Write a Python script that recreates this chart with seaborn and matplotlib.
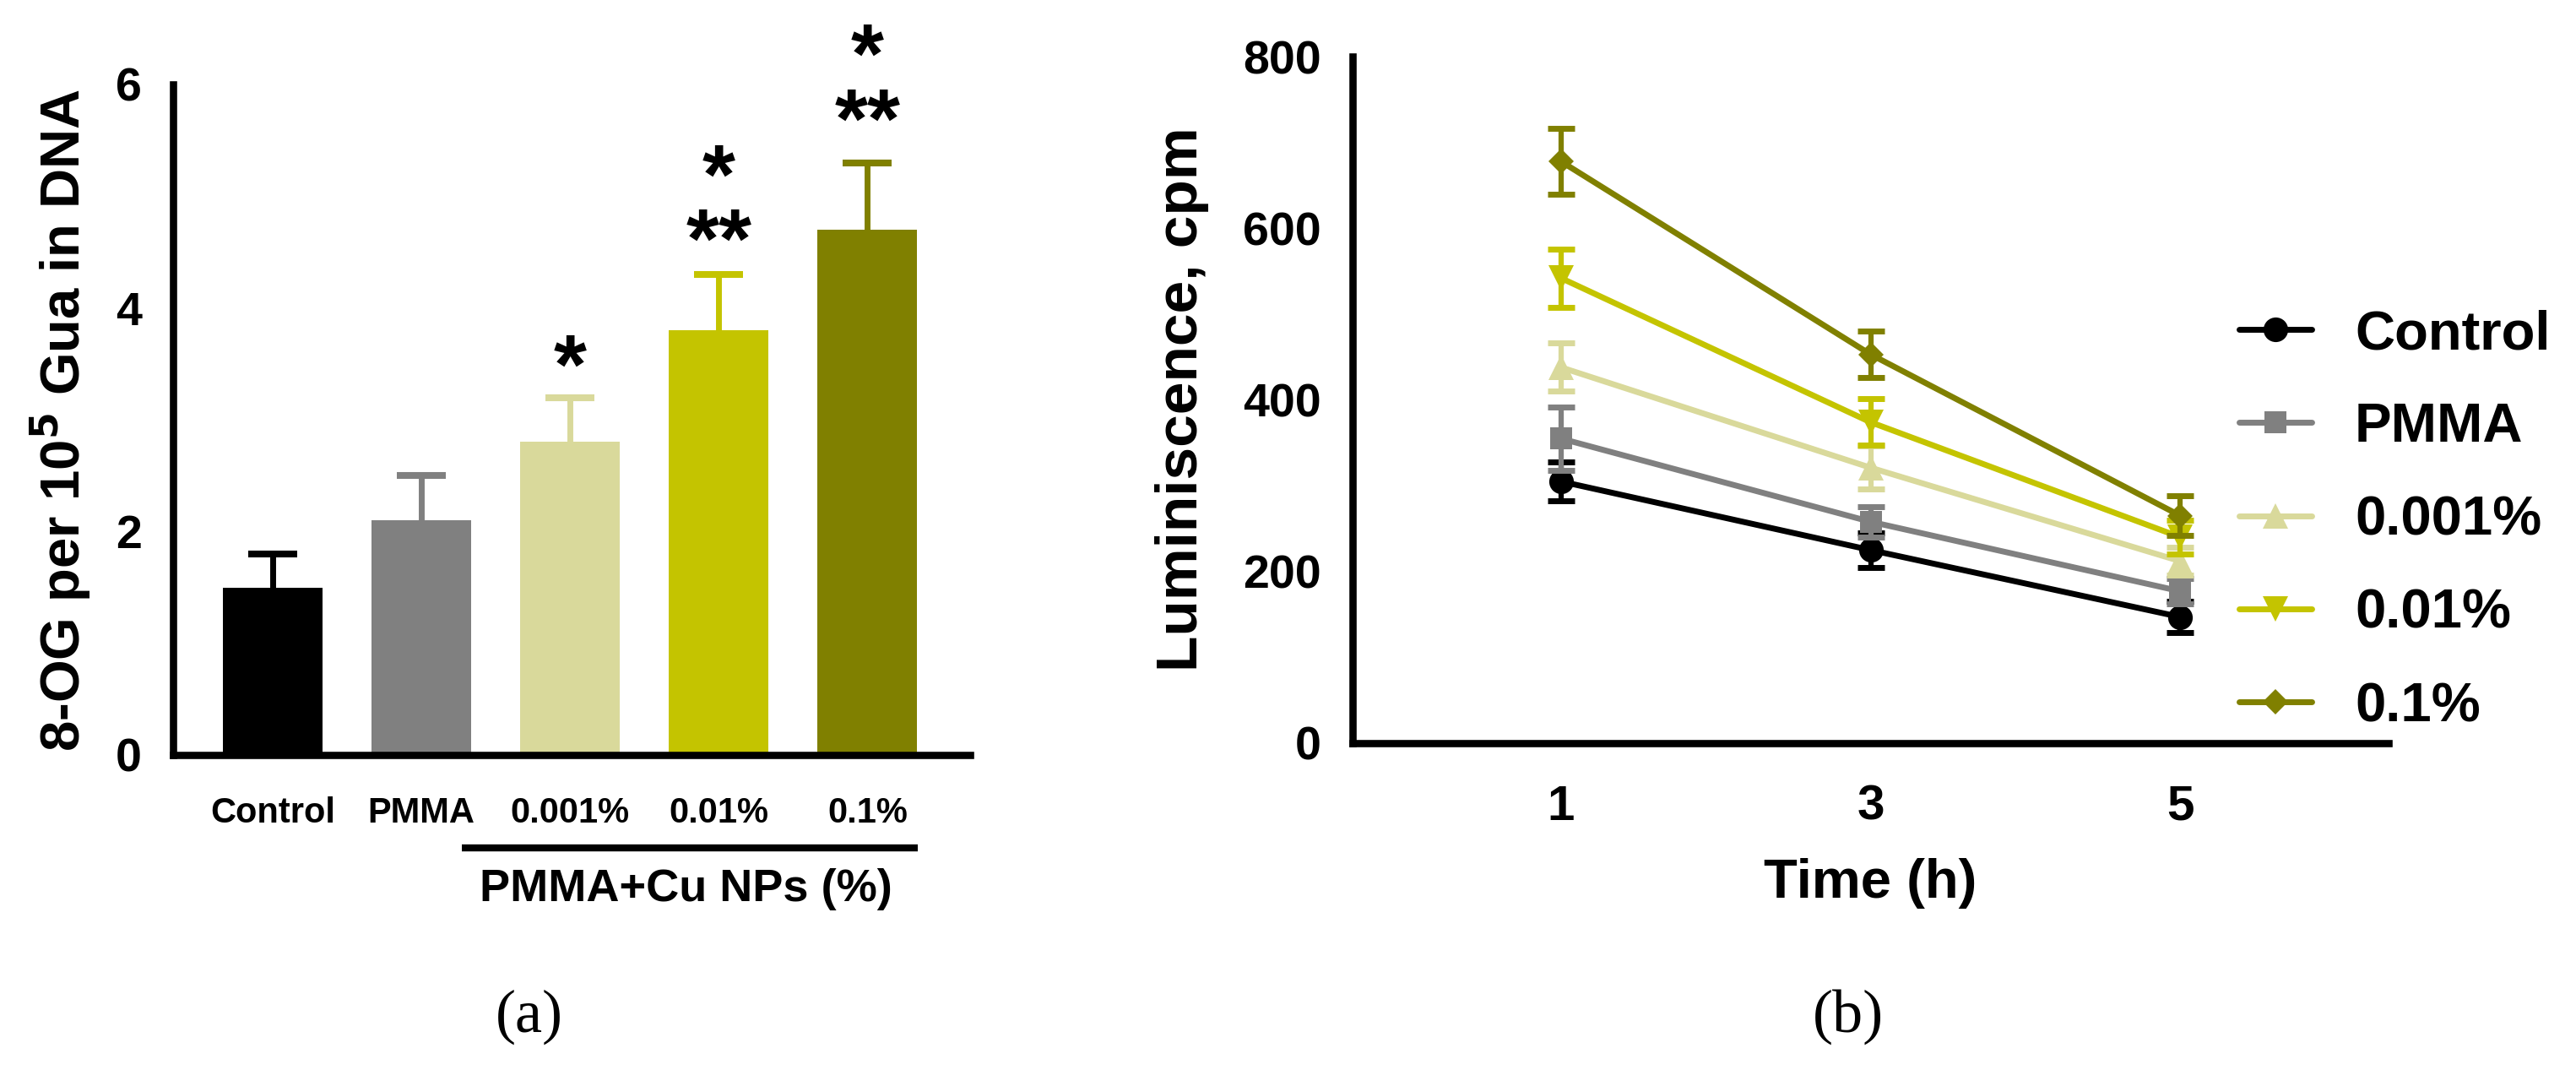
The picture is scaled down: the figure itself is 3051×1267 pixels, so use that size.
import numpy as np
import pandas as pd
import matplotlib
matplotlib.use("Agg")
import matplotlib.pyplot as plt
import matplotlib.transforms as mtransforms
from matplotlib.lines import Line2D
import seaborn as sns

# ---- panel (a): 8-OG bars ----
bar_groups = ["Control", "PMMA", "0.001%", "0.01%", "0.1%"]
bar_means = [1.5, 2.1, 2.8, 3.8, 4.7]
bar_errs = [0.3, 0.4, 0.4, 0.5, 0.6]
bar_colors = ["#000000", "#808080", "#D9D99B", "#C4C400", "#808000"]
# significance marks: (bar index, text, height of the lowest row of stars)
sig_marks = [(2, "*", 3.64), (3, "*\n**", 4.76), (4, "*\n**", 5.84)]

# ---- panel (b): luminescence over time ----
times = [1, 3, 5]
series_names = ["Control", "PMMA", "0.001%", "0.01%", "0.1%"]
series_vals = {
    "Control": [305, 225, 147],
    "PMMA": [355, 258, 177],
    "0.001%": [438, 321, 212],
    "0.01%": [542, 374, 240],
    "0.1%": [678, 453, 265],
}
series_errs = {
    "Control": [23, 20, 18],
    "PMMA": [37, 18, 15],
    "0.001%": [28, 25, 16],
    "0.01%": [34, 27, 20],
    "0.1%": [38, 27, 23],
}
series_colors = ["#000000", "#808080", "#D9D99B", "#C4C400", "#808000"]
series_markers = ["o", "s", "^", "v", "D"]
marker_sizes = [21, 19, 22, 22, 15]

sns.set_style("white")
plt.rcParams["font.family"] = ["Liberation Sans", "DejaVu Sans"]
plt.rcParams["font.weight"] = "bold"
for key in ["text.color", "axes.labelcolor", "xtick.color", "ytick.color", "axes.edgecolor"]:
    plt.rcParams[key] = "black"

W, H = 3051, 1267
fig = plt.figure(figsize=(W / 100, H / 100), dpi=100)


def box(x0, y0, x1, y1):
    # pixel box (top-left origin) -> figure fraction rect
    return [x0 / W, 1 - y1 / H, (x1 - x0) / W, (y1 - y0) / H]


axis_lw = 6.2
tick_len = 21

# ---------- (a) ----------
ax1 = fig.add_axes(box(205, 100, 1149, 894))
sns.barplot(x=bar_groups, y=bar_means, hue=bar_groups, palette=bar_colors,
            legend=False, width=0.67, errorbar=None, saturation=1,
            linewidth=0, ax=ax1)
for i, (m, e, c) in enumerate(zip(bar_means, bar_errs, bar_colors)):
    eb = ax1.errorbar(i, m, yerr=[[0], [e]], fmt="none", ecolor=c,
                      elinewidth=5, capsize=21, capthick=5.8, zorder=1)
    eb[1][0].set_visible(False)  # only the upper cap
ax1.set_xlim(-0.67, 4.69)
ax1.set_ylim(0, 6)
ax1.set_yticks([0, 2, 4, 6])
ax1.set_xlabel("")
ax1.set_ylabel("")
sns.despine(ax=ax1)
for sp in ["left", "bottom"]:
    ax1.spines[sp].set_linewidth(axis_lw)
ax1.tick_params(axis="y", length=tick_len, width=axis_lw, labelsize=40, pad=6)
ax1.tick_params(axis="x", length=tick_len, width=axis_lw, labelsize=30, pad=14)
for lab in ax1.get_xticklabels() + ax1.get_yticklabels():
    lab.set_fontweight("bold")

star_fs = 72
for i, txt, yc in sig_marks:
    tr = mtransforms.offset_copy(ax1.transData, fig=fig, y=-0.74 * star_fs, units="points")
    ax1.text(i, yc, txt, transform=tr, ha="center", va="bottom", multialignment="center",
             linespacing=0.76, fontsize=star_fs, fontweight="bold", clip_on=False)

blend = mtransforms.blended_transform_factory(ax1.transData, ax1.transAxes)
ax1.add_line(Line2D([1.27, 4.34], [-0.1385, -0.1385], transform=blend,
                    color="black", linewidth=6, clip_on=False, solid_capstyle="butt"))
ax1.text(2.78, -0.20, "PMMA+Cu NPs (%)", transform=blend, ha="center", va="center",
         fontsize=39, fontweight="bold")
fig.text(72 / W, 1 - 497 / H, r"8-OG per 10$^{\mathbf{5}}$ Gua in DNA", rotation=90,
         ha="center", va="center", fontsize=47, fontweight="bold")

# ---------- (b) ----------
ax2 = fig.add_axes(box(1602, 67, 2829, 880))
handles = []
for name, col, mk, ms in zip(series_names, series_colors, series_markers, marker_sizes):
    df = pd.DataFrame({"time": times, "value": series_vals[name]})
    sns.lineplot(data=df, x="time", y="value", color=col, marker=mk, markersize=ms,
                 markeredgewidth=0, linewidth=5, ax=ax2)
    ax2.errorbar(times, series_vals[name], yerr=series_errs[name], fmt="none",
                 ecolor=col, elinewidth=4.5, capsize=11.5, capthick=5)
    handles.append(Line2D([], [], color=col, marker=mk, markersize=ms,
                          markeredgewidth=0, linewidth=5))
ax2.set_xlim(-0.344, 6.344)
ax2.set_ylim(0, 800)
ax2.set_xticks(times)
ax2.set_yticks([0, 200, 400, 600, 800])
ax2.set_xlabel("Time (h)", fontsize=47, fontweight="bold", labelpad=24)
ax2.set_ylabel("")
sns.despine(ax=ax2)
for sp in ["left", "bottom"]:
    ax2.spines[sp].set_linewidth(axis_lw)
ax2.tick_params(axis="y", length=tick_len, width=axis_lw, labelsize=40, pad=6)
ax2.tick_params(axis="x", length=tick_len, width=axis_lw, labelsize=42, pad=14)
for lab in ax2.get_xticklabels() + ax2.get_yticklabels():
    lab.set_fontweight("bold")
fig.text(1400 / W, 1 - 473 / H, "Luminiscence, cpm", rotation=90,
         ha="center", va="center", fontsize=50, fontweight="bold")

fig.legend(handles, series_names, loc="upper left", bbox_to_anchor=(2652 / W, 1 - 366 / H),
           frameon=False, borderpad=0, borderaxespad=0, handlelength=1.32,
           handletextpad=0.78, labelspacing=0.77, numpoints=1,
           prop={"size": 47, "weight": "bold"})

# captions
fig.text(627 / W, 1 - 1204 / H, "(a)", ha="center", va="center", fontsize=52,
         family="Liberation Serif", fontweight="normal")
fig.text(2189 / W, 1 - 1204 / H, "(b)", ha="center", va="center", fontsize=52,
         family="Liberation Serif", fontweight="normal")

fig.savefig("out.png", dpi=100, facecolor="white")
